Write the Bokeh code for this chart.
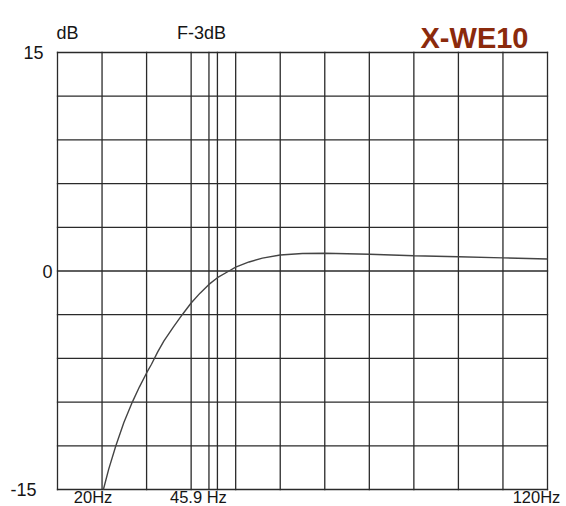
from bokeh.plotting import figure
from bokeh.models import Range1d
from bokeh.core.properties import value
from bokeh.embed import file_html
from bokeh.resources import INLINE

# data
freq_hz = [20.3, 21.5, 23.1, 24.9, 26.8, 28.4, 30, 31.1, 32.5, 33.9, 36, 38.0, 40, 42, 44, 45.9, 48.5, 50, 53, 56, 60, 65, 70, 80, 90, 100, 110, 120]
level_db = [-15, -13.6, -12, -10.4, -9, -7.95, -7.0, -6.4, -5.55, -4.8, -3.85, -3.0, -2.2, -1.52, -0.92, -0.46, 0, 0.26, 0.62, 0.88, 1.1, 1.2, 1.22, 1.15, 1.05, 0.98, 0.9, 0.82]
x_grid = [10, 20, 30, 40, 44, 45.9, 50, 60, 70, 80, 90, 100, 110, 120]
y_grid = [-15, -12, -9, -6, -3, 0, 3, 6, 9, 12, 15]
y_tick_vals = [15, 0, -15]
y_tick_text = ["15", "0", "-15"]
x_tick_vals = [20, 45.9, 120]
x_tick_text = ["20Hz", "45.9 Hz", "120Hz"]
title_text = "X-WE10"
f3db_freq = 45.9

X_MIN, X_MAX = 10, 120
Y_MIN, Y_MAX = -15, 15

# page geometry (pixels): plot box inside the figure
W, H = 566, 506
LEFT, RIGHT, TOP, BOTTOM = 57, 547, 52, 489
sx = (RIGHT - LEFT) / (X_MAX - X_MIN)
sy = (BOTTOM - TOP) / (Y_MAX - Y_MIN)
x_range = Range1d(X_MIN - LEFT / sx, X_MAX + (W - RIGHT) / sx)
y_range = Range1d(Y_MIN - (H - BOTTOM) / sy, Y_MAX + TOP / sy)

FONT = value("Liberation Sans")
INK = "#151515"
GRID = "#2a2a2a"

p = figure(width=W, height=H, output_backend="svg", toolbar_location=None,
           x_range=x_range, y_range=y_range, min_border=0)
p.axis.visible = False
p.grid.visible = False
p.outline_line_color = None
p.background_fill_color = "white"
p.border_fill_color = "white"

# grid (includes the outer box)
p.segment(x0=x_grid, y0=[Y_MIN] * len(x_grid), x1=x_grid, y1=[Y_MAX] * len(x_grid),
          line_color=GRID, line_width=1.3, line_cap="square")
p.segment(x0=[X_MIN] * len(y_grid), y0=y_grid, x1=[X_MAX] * len(y_grid), y1=y_grid,
          line_color=GRID, line_width=1.3, line_cap="square")

p.line(freq_hz, level_db, line_color="#444444", line_width=1.4)

def lab(x, y, text, xo, yo, align, baseline, size="18px", color=INK, style="normal"):
    p.text(x=[x], y=[y], text=[text], x_offset=xo, y_offset=yo,
           text_align=align, text_baseline=baseline,
           text_font=FONT, text_font_size=size, text_color=color,
           text_font_style=style)

# y labels
y_offsets = [-14, -5, -21]
for v, t, off in zip(y_tick_vals, y_tick_text, y_offsets):
    lab(X_MIN, v, t, off, 0, "right", "alphabetic")

# x labels
x_offsets = [-9, -19, -11]
for v, t, off in zip(x_tick_vals, x_tick_text, x_offsets):
    lab(v, Y_MIN, t, off, 16, "center", "bottom", size="16.5px")

# dB unit label and F-3dB label
lab(X_MIN, Y_MAX, "dB", -1, -20, "left", "alphabetic")
lab(f3db_freq, Y_MAX, "F-3dB", -16, -20, "center", "alphabetic")

# title mark
lab(X_MAX, Y_MAX, title_text, -19, -15, "right", "alphabetic", size="29px", color="#8b2a0c", style="bold")

open("out.html", "w").write(file_html(p, INLINE))
